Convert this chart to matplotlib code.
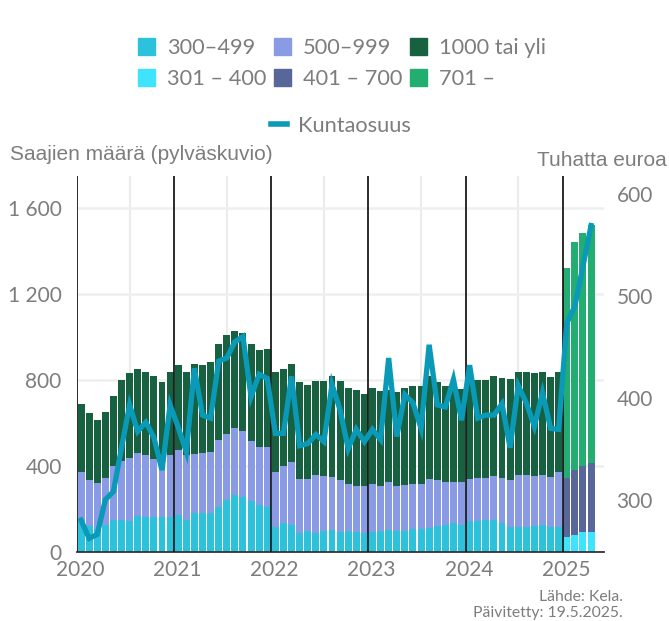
import matplotlib
matplotlib.use("Agg")
import matplotlib.pyplot as plt
from matplotlib.patches import Patch
from matplotlib.lines import Line2D
import numpy as np

# ---------------- data ----------------
years = ["2020", "2021", "2022", "2023", "2024", "2025"]

# monthly counts 2020-01 .. 2024-12 (old income classes)
c300_499 = [150, 122, 105, 126, 150, 150, 146, 169, 161, 161, 161, 161,
            171, 150, 183, 180, 180, 211, 243, 264, 257, 236, 220, 208,
            115, 135, 127, 90, 99, 88, 96, 104, 95, 99, 95, 88,
            91, 96, 104, 96, 96, 107, 107, 112, 122, 126, 135, 126,
            143, 146, 150, 150, 135, 118, 118, 118, 122, 126, 118, 118]
c500_999 = [224, 214, 214, 220, 248, 275, 293, 293, 292, 273, 273, 289,
            305, 300, 274, 282, 287, 311, 307, 311, 307, 282, 271, 279,
            256, 263, 293, 251, 242, 269, 256, 243, 238, 219, 214, 217,
            227, 213, 223, 209, 217, 211, 211, 228, 214, 198, 192, 201,
            198, 200, 196, 205, 211, 218, 242, 242, 233, 234, 232, 256]
c1000 = [316, 312, 296, 307, 329, 377, 395, 391, 386, 386, 358, 386,
         395, 390, 419, 409, 418, 444, 458, 454, 456, 448, 451, 459,
         465, 455, 457, 448, 437, 441, 442, 470, 461, 446, 446, 431,
         446, 441, 428, 439, 451, 456, 456, 477, 453, 450, 444, 431,
         464, 454, 454, 464, 464, 469, 478, 478, 478, 478, 464, 464]

# monthly counts 2025-01 .. 2025-04 (new income classes)
c301_400 = [71, 81, 95, 95]
c401_700 = [275, 302, 307, 321]
c701 = [976, 1062, 1085, 1106]

# municipal share, thousand euros, 2020-01 .. 2025-04
kuntaosuus = [280, 262, 266, 300, 308, 351, 393, 367, 376, 361, 329, 393,
              371, 347, 429, 383, 380, 436, 439, 455, 460, 401, 423, 419,
              365, 365, 421, 353, 355, 364, 357, 413, 388, 350, 369, 357,
              369, 359, 439, 362, 403, 395, 370, 452, 393, 391, 418, 378,
              432, 380, 383, 383, 394, 351, 412, 395, 372, 405, 370, 369,
              473, 490, 529, 569]

legend_old = ["300–499", "500–999", "1000 tai yli"]
legend_new = ["301 – 400", "401 – 700", "701 –"]
line_label = "Kuntaosuus"

col_old = ["#2cc2dc", "#8a9be6", "#176040"]
col_new = ["#3ee4fd", "#596699", "#23ad70"]
col_line = "#0a9ab7"
grey = "#7d7d7d"

# ---------------- figure ----------------
fig = plt.figure(figsize=(6.69, 6.21), dpi=100)
ax = fig.add_axes([77/669, 1-552/621, (604-77)/669, (552-176)/621])
ax2 = ax.twinx()

n_old = len(c300_499)
x_old = np.arange(n_old) + 0.5
x_new = np.arange(n_old, n_old + len(c301_400)) + 0.5
w = 0.86

b1 = np.array(c300_499)
b2 = np.array(c500_999)
b3 = np.array(c1000)
ax.bar(x_old, b1, w, color=col_old[0], zorder=2)
ax.bar(x_old, b2, w, bottom=b1, color=col_old[1], zorder=2)
ax.bar(x_old, b3, w, bottom=b1 + b2, color=col_old[2], zorder=2)

n1 = np.array(c301_400)
n2 = np.array(c401_700)
n3 = np.array(c701)
ax.bar(x_new, n1, w, color=col_new[0], zorder=2)
ax.bar(x_new, n2, w, bottom=n1, color=col_new[1], zorder=2)
ax.bar(x_new, n3, w, bottom=n1 + n2, color=col_new[2], zorder=2)

# year separators
for k in range(len(years)):
    ax.axvline(12 * k, color="#1a1a1a", lw=1.3, zorder=3)
# light vertical grid mid-year
for k in range(len(years) - 1):
    ax.axvline(12 * k + 6.5, color="#ebebeb", lw=1.5, zorder=0)

ax.set_xlim(0, 65.1)
ax.set_ylim(0, 1750)
ax.set_yticks([0, 400, 800, 1200, 1600])
ax.set_yticklabels(["0", "400", "800", "1 200", "1 600"])
ax.set_xticks([12 * k + 0.4 for k in range(len(years))])
ax.set_xticklabels(years)
ax.grid(axis="y", color="#efefef", lw=1.8, zorder=0)
ax.set_axisbelow(True)
for s in ["top", "right", "left"]:
    ax.spines[s].set_visible(False)
ax.spines["bottom"].set_color("#333333")
ax.spines["bottom"].set_linewidth(1.3)
ax.tick_params(axis="both", length=0, labelsize=15, labelcolor=grey)
ax.tick_params(axis="y", pad=11)
ax.tick_params(axis="x", pad=6)
for t in ax.get_xticklabels() + ax.get_yticklabels():
    t.set_fontfamily("Lato")

ax2.plot(np.arange(len(kuntaosuus)) + 0.5, kuntaosuus, color=col_line, lw=3.8,
         solid_joinstyle="miter", zorder=5)
ax2.set_ylim(248.7, 617.6)
ax2.set_yticks([300, 400, 500, 600])
ax2.tick_params(axis="y", length=0, labelsize=15, labelcolor=grey, pad=9)
for t in ax2.get_yticklabels():
    t.set_fontfamily("Lato")
for s in ["top", "right", "left", "bottom"]:
    ax2.spines[s].set_visible(False)

# axis titles
fig.text(10/669, 1-155/621, "Saajien määrä (pylväskuvio)", fontsize=15,
         color=grey, family="Liberation Sans", va="center", ha="left")
fig.text(667/669, 1-161/621, "Tuhatta euroa", fontsize=15,
         color=grey, family="Liberation Sans", va="center", ha="right")

# legends
handles = []
labels = []
for i in range(3):
    handles.append(Patch(color=col_old[i]))
    labels.append(legend_old[i])
    handles.append(Patch(color=col_new[i]))
    labels.append(legend_new[i])
leg = fig.legend(handles, labels, ncol=3, loc="upper center",
                 bbox_to_anchor=(0.511, 0.970), frameon=False,
                 prop={"family": "Lato", "size": 15.7},
                 handlelength=0.8, handleheight=0.8, handletextpad=0.55,
                 columnspacing=0.33, labelspacing=0.5)
for t in leg.get_texts():
    t.set_color(grey)

leg2 = fig.legend([Line2D([0], [0], color=col_line, lw=4)], [line_label],
                  loc="center", bbox_to_anchor=(0.510, 1-126/621), frameon=False,
                  prop={"family": "Lato", "size": 15.7},
                  handlelength=0.75, handletextpad=0.5)
for t in leg2.get_texts():
    t.set_color(grey)

# source
fig.text(623/669, 1-597/621, "Lähde: Kela.", fontsize=11.3, color=grey,
         family="Lato", ha="right", va="center")
fig.text(623/669, 1-613/621, "Päivitetty: 19.5.2025.", fontsize=11.3, color=grey,
         family="Lato", ha="right", va="center")

fig.savefig("out.png", dpi=100)
